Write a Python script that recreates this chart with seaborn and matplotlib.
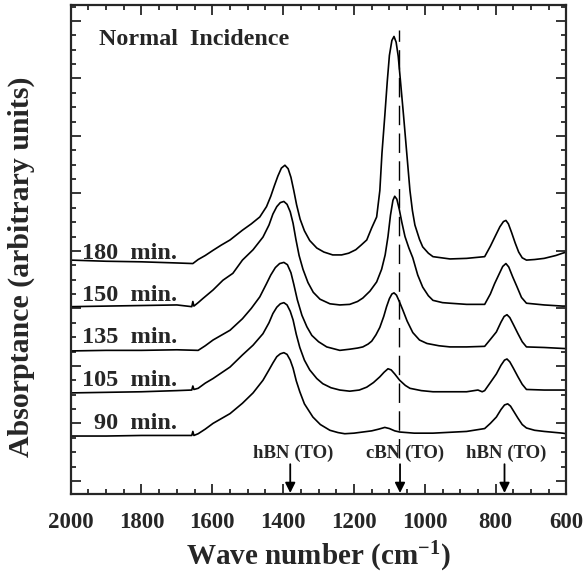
import numpy as np
import pandas as pd
import seaborn as sns
import matplotlib
matplotlib.use("Agg")
import matplotlib.pyplot as plt
from matplotlib.ticker import MultipleLocator

# ---------------- data ----------------
wn_180 = [2000, 1900, 1800, 1700, 1655, 1640, 1620, 1598, 1575, 1550, 1515, 1490, 1466, 1447,
          1435, 1425, 1415, 1405, 1395, 1386, 1378, 1370, 1362, 1352, 1340, 1325, 1305, 1285,
          1260, 1235, 1215, 1195, 1180, 1164, 1150, 1136, 1127, 1121, 1113, 1106, 1100, 1093,
          1087, 1081, 1075, 1068, 1060, 1051, 1042, 1035, 1028, 1015, 1006, 990, 977, 929, 882,
          831, 815, 800, 788, 778, 771, 764, 755, 745, 735, 725, 713, 690, 663, 630, 611, 600]
ab_180 = [3.84, 3.82, 3.81, 3.79, 3.78, 3.85, 3.92, 4.01, 4.10, 4.19, 4.36, 4.47, 4.59, 4.77,
          4.95, 5.13, 5.30, 5.44, 5.49, 5.43, 5.28, 5.05, 4.80, 4.55, 4.35, 4.18, 4.05, 3.98,
          3.93, 3.93, 3.96, 4.02, 4.10, 4.19, 4.40, 4.59, 5.05, 5.70, 6.35, 6.95, 7.40, 7.66,
          7.73, 7.63, 7.38, 6.90, 6.35, 5.70, 5.05, 4.70, 4.45, 4.20, 4.07, 3.96, 3.90, 3.86, 3.87,
          3.90, 4.08, 4.27, 4.42, 4.51, 4.53, 4.47, 4.32, 4.14, 3.98, 3.88, 3.84, 3.85, 3.87, 3.92,
          3.96, 3.98]

wn_150 = [2000, 1900, 1800, 1700, 1658, 1655, 1652, 1640, 1627, 1598, 1570, 1542, 1515, 1485,
          1457, 1440, 1429, 1418, 1408, 1398, 1389, 1380, 1372, 1364, 1355, 1344, 1330, 1315,
          1296, 1268, 1240, 1212, 1190, 1175, 1155, 1136, 1122, 1112, 1104, 1097, 1090, 1085,
          1079, 1072, 1065, 1056, 1045, 1034, 1020, 1006, 990, 977, 950, 929, 882, 831, 815, 803,
          790, 780, 771, 763, 752, 740, 727, 713, 663, 611, 600]
ab_150 = [3.03, 3.04, 3.05, 3.06, 3.03, 3.12, 3.04, 3.10, 3.17, 3.32, 3.49, 3.61, 3.84, 4.02,
          4.24, 4.45, 4.64, 4.77, 4.84, 4.86, 4.81, 4.68, 4.48, 4.20, 3.92, 3.68, 3.45, 3.28,
          3.16, 3.08, 3.06, 3.07, 3.12, 3.18, 3.30, 3.46, 3.68, 3.93, 4.25, 4.62, 4.88, 4.95,
          4.90, 4.72, 4.50, 4.25, 4.05, 3.88, 3.58, 3.37, 3.22, 3.14, 3.10, 3.09, 3.07, 3.07, 3.25,
          3.43, 3.60, 3.73, 3.78, 3.72, 3.55, 3.38, 3.19, 3.09, 3.06, 3.04, 3.04]

wn_135 = [2000, 1900, 1800, 1700, 1640, 1620, 1598, 1550, 1515, 1490, 1466, 1447, 1435, 1422,
          1410, 1398, 1388, 1378, 1370, 1360, 1347, 1333, 1319, 1300, 1277, 1240, 1212, 1190,
          1175, 1160, 1150, 1138, 1127, 1116, 1108, 1100, 1093, 1087, 1080, 1072, 1062, 1050,
          1034, 1015, 994, 960, 929, 882, 831, 815, 798, 785, 776, 768, 760, 750, 737, 725, 713,
          663, 600]
ab_135 = [2.26, 2.27, 2.27, 2.28, 2.27, 2.35, 2.45, 2.62, 2.82, 3.00, 3.20, 3.43, 3.58, 3.71,
          3.78, 3.80, 3.76, 3.62, 3.42, 3.15, 2.88, 2.68, 2.53, 2.42, 2.33, 2.27, 2.29, 2.31,
          2.33, 2.38, 2.43, 2.54, 2.67, 2.86, 3.03, 3.17, 3.25, 3.27, 3.23, 3.12, 2.97, 2.78,
          2.58, 2.45, 2.39, 2.35, 2.33, 2.33, 2.34, 2.46, 2.59, 2.76, 2.86, 2.89, 2.84, 2.72, 2.56,
          2.42, 2.33, 2.32, 2.30]

wn_105 = [2000, 1900, 1800, 1700, 1658, 1655, 1652, 1640, 1620, 1598, 1550, 1515, 1485, 1457,
          1440, 1429, 1418, 1408, 1398, 1389, 1380, 1372, 1363, 1353, 1340, 1325, 1305, 1288,
          1265, 1240, 1212, 1185, 1164, 1145, 1127, 1115, 1104, 1095, 1085, 1071, 1055, 1042,
          1010, 977, 882, 850, 838, 831, 815, 798, 785, 775, 768, 760, 750, 737, 725, 713, 663, 600]
ab_105 = [1.53, 1.54, 1.55, 1.57, 1.58, 1.65, 1.59, 1.61, 1.70, 1.78, 1.98, 2.19, 2.36, 2.56,
          2.75, 2.91, 3.02, 3.08, 3.10, 3.06, 2.95, 2.80, 2.55, 2.32, 2.10, 1.93, 1.78, 1.69,
          1.62, 1.58, 1.56, 1.58, 1.63, 1.71, 1.81, 1.89, 1.95, 1.93, 1.86, 1.75, 1.66, 1.61,
          1.57, 1.55, 1.55, 1.58, 1.55, 1.57, 1.71, 1.86, 2.01, 2.10, 2.12, 2.07, 1.96, 1.81, 1.68,
          1.59, 1.58, 1.58]

wn_90 = [2000, 1900, 1800, 1700, 1658, 1655, 1652, 1640, 1620, 1598, 1550, 1515, 1485, 1457,
         1440, 1429, 1418, 1408, 1398, 1389, 1380, 1372, 1363, 1353, 1340, 1316, 1295, 1268, 1245,
         1226, 1200, 1175, 1150, 1130, 1113, 1100, 1085, 1071, 1030, 977, 882, 831, 815, 798, 785,
         775, 766, 758, 748, 737, 725, 713, 690, 663, 611, 600]
ab_90 = [0.78, 0.78, 0.79, 0.79, 0.79, 0.86, 0.79, 0.82, 0.90, 1.00, 1.17, 1.35, 1.53, 1.75,
         1.93, 2.05, 2.16, 2.21, 2.23, 2.20, 2.10, 1.96, 1.74, 1.55, 1.34, 1.11, 0.98, 0.88, 0.84,
         0.82, 0.83, 0.85, 0.87, 0.90, 0.93, 0.91, 0.87, 0.85, 0.83, 0.83, 0.86, 0.91, 1.00, 1.11,
         1.24, 1.32, 1.34, 1.30, 1.20, 1.09, 0.98, 0.92, 0.88, 0.86, 0.83, 0.82]

curve_labels = ["180  min.", "150  min.", "135  min.", "105  min.", "90  min."]
label_y = [3.86, 3.12, 2.39, 1.65, 0.90]

peak_names = ["hBN (TO)", "cBN (TO)", "hBN (TO)"]
peak_text_x = [1373, 1057, 770]
peak_arrow_x = [1380, 1070, 775]
cbn_line_x = 1074

x_ticks = [2000, 1800, 1600, 1400, 1200, 1000, 800, 600]

# ---------------- build frame ----------------
frames = []
for name, w, a in zip(curve_labels,
                      [wn_180, wn_150, wn_135, wn_105, wn_90],
                      [ab_180, ab_150, ab_135, ab_105, ab_90]):
    frames.append(pd.DataFrame({"wn": w, "ab": a, "series": name}))
df = pd.concat(frames, ignore_index=True)

# ---------------- style ----------------
sns.set_style("ticks")
serif = ["Liberation Serif", "DejaVu Serif"]
plt.rcParams["font.family"] = serif
plt.rcParams["font.weight"] = "bold"
plt.rcParams["mathtext.fontset"] = "custom"
plt.rcParams["mathtext.rm"] = "Liberation Serif:bold"
plt.rcParams["mathtext.bf"] = "Liberation Serif:bold"

fig = plt.figure(figsize=(5.84, 5.80), dpi=100)
ax = fig.add_axes([0.121, 0.148, 0.849, 0.843])

for name in curve_labels:
    sub = df[df["series"] == name]
    sns.lineplot(data=sub, x="wn", y="ab", ax=ax, color="black", lw=1.2,
                 sort=False, estimator=None, legend=False)

ax.set_xlim(2000, 600)
ax.set_ylim(-0.231, 8.273)

ax.xaxis.set_major_locator(plt.FixedLocator(x_ticks))
ax.xaxis.set_minor_locator(MultipleLocator(50))
ax.yaxis.set_major_locator(MultipleLocator(1))
ax.yaxis.set_minor_locator(MultipleLocator(0.25))
ax.tick_params(which="both", direction="in", top=True, right=True, width=1.3)
ax.tick_params(which="major", length=7.5)
ax.tick_params(which="minor", length=3.6)
ax.tick_params(axis="x", which="major", pad=13, labelsize=16.5)
ax.set_yticklabels([])
for lab in ax.get_xticklabels():
    lab.set_fontweight("bold")
for sp in ax.spines.values():
    sp.set_linewidth(1.6)

ax.set_xlabel(r"Wave number (cm$\mathregular{^{-1}}$)", fontsize=21, fontweight="bold", labelpad=5)
ax.set_ylabel("Absorptance (arbitrary units)", fontsize=21.5, fontweight="bold")
ax.yaxis.set_label_coords(-0.071, 0.466)

ax.text(1920, 7.68, "Normal  Incidence", fontsize=17.3, fontweight="bold", ha="left", va="center")

for lab, yv in zip(curve_labels, label_y):
    ax.text(1700, yv, lab, fontsize=17.5, fontweight="bold", ha="right", va="baseline")

ax.plot([cbn_line_x, cbn_line_x], [0.39, 7.84], color="black", lw=1.0, dashes=(14, 6))

for name, tx, axx in zip(peak_names, peak_text_x, peak_arrow_x):
    ax.text(tx, 0.48, name, fontsize=13.5, fontweight="bold", ha="center", va="center")
    ax.annotate("", xy=(axx, -0.21), xytext=(axx, 0.29),
                arrowprops=dict(arrowstyle="-|>", color="black", lw=1.3,
                                mutation_scale=15, shrinkA=0, shrinkB=0))

fig.savefig("out.png", dpi=100)
